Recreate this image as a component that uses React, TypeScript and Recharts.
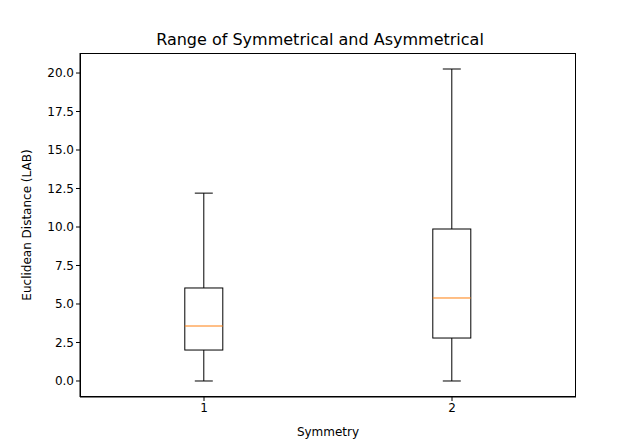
import React from 'react';
import { ComposedChart, Bar, XAxis, YAxis } from 'recharts';

const groups = ['1', '2'];
const whiskerLow = [0, 0];
const q1 = [2.01, 2.79];
const median = [3.57, 5.39];
const q3 = [6.04, 9.87];
const whiskerHigh = [12.2, 20.26];
const yTicks = [0, 2.5, 5, 7.5, 10, 12.5, 15, 17.5, 20];

const data = groups.map((g, i) => ({
  name: g,
  lo: whiskerLow[i],
  q1: q1[i],
  med: median[i],
  q3: q3[i],
  hi: whiskerHigh[i],
}));

const BoxShape = (props: any) => {
  const { x, y, width, height, payload } = props;
  const { lo, hi } = payload;
  const py = (v: number) => y + (height * (hi - v)) / (hi - lo);
  const cx = x + width / 2;
  const bw = 19;
  const cw = 9;
  return (
    <g>
      <line x1={cx} x2={cx} y1={py(hi)} y2={py(payload.q3)} stroke="#000" />
      <line x1={cx} x2={cx} y1={py(payload.q1)} y2={py(lo)} stroke="#000" />
      <line x1={cx - cw} x2={cx + cw} y1={py(hi)} y2={py(hi)} stroke="#000" />
      <line x1={cx - cw} x2={cx + cw} y1={py(lo)} y2={py(lo)} stroke="#000" />
      <rect x={cx - bw} y={py(payload.q3)} width={bw * 2} height={py(payload.q1) - py(payload.q3)} fill="none" stroke="#000" />
      <line x1={cx - bw} x2={cx + bw} y1={py(payload.med)} y2={py(payload.med)} stroke="#ff7f0e" />
    </g>
  );
};

export default function App() {
  const font = 'DejaVu Sans, sans-serif';
  return (
    <div style={{ position: 'absolute', left: 0, top: 0, width: 640, height: 446, background: '#fff', fontFamily: font }}>
      <div style={{ position: 'absolute', top: 30, width: 640, left: 0, textAlign: 'center', fontSize: 16 }}>
        Range of Symmetrical and Asymmetrical
      </div>
      <ComposedChart width={640} height={446} data={data} margin={{ top: 53, left: 0, right: 64, bottom: 0 }}>
        <XAxis
          dataKey="name"
          tickSize={4}
          stroke="#000"
          tick={{ fill: '#000', fontSize: 12, fontFamily: font }}
          height={49}
        />
        <YAxis
          type="number"
          domain={[-1.04, 21.3]}
          allowDataOverflow
          ticks={yTicks}
          tickFormatter={(v: number) => v.toFixed(1)}
          tickSize={4}
          width={80}
          stroke="#000"
          tick={{ fill: '#000', fontSize: 12, fontFamily: font }}
        />
        <Bar dataKey={(d: any) => [d.lo, d.hi]} shape={BoxShape} isAnimationActive={false} />
      </ComposedChart>
      <div style={{ position: 'absolute', left: 80, top: 53, width: 496, height: 344, border: '1px solid #000', boxSizing: 'border-box', pointerEvents: 'none' }} />
      <div style={{ position: 'absolute', left: 80, top: 425, width: 496, textAlign: 'center', fontSize: 12 }}>Symmetry</div>
      <div style={{ position: 'absolute', left: 27 - 150, top: 225 - 8, width: 300, textAlign: 'center', fontSize: 12, lineHeight: '16px', transform: 'rotate(-90deg)' }}>
        Euclidean Distance (LAB)
      </div>
    </div>
  );
}
